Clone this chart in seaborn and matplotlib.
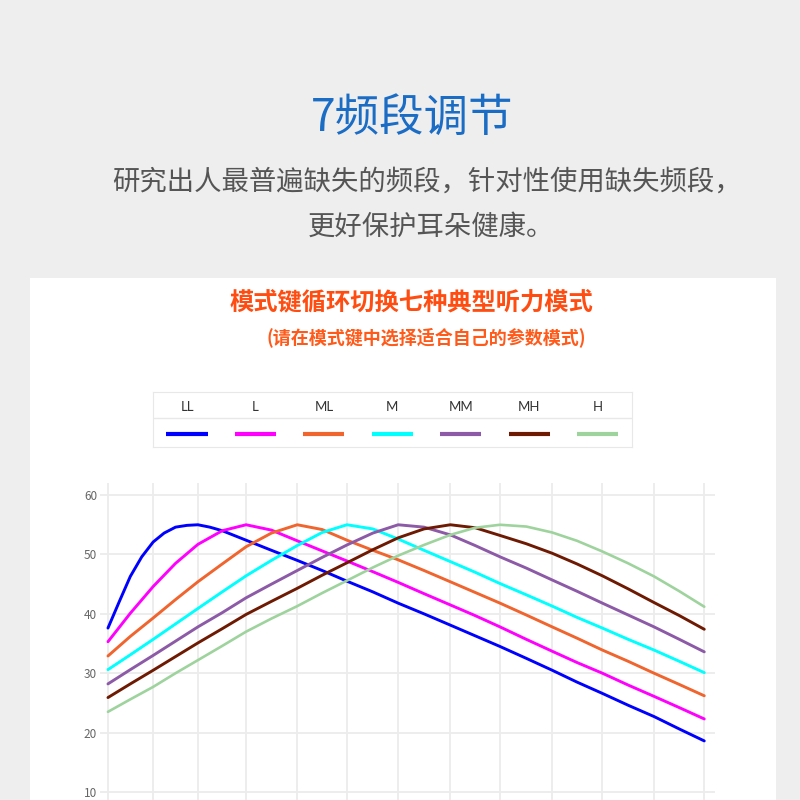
import pandas as pd
import matplotlib.pyplot as plt
import seaborn as sns
from matplotlib.patches import Rectangle

# grid columns as they sit on the picture (slightly tighter at the low end)
grid_cols = [0, 0.91, 1.81, 2.78, 3.81, 4.81, 5.84, 6.89, 7.89, 8.94, 9.95, 10.99, 12]

# levels read at every column and half column
band = [0, 0.45, 0.91, 1.36, 1.81, 2.30, 2.78, 3.29, 3.81, 4.31, 4.81, 5.33, 5.84,
        6.36, 6.89, 7.39, 7.89, 8.42, 8.94, 9.44, 9.95, 10.47, 10.99, 11.50, 12]
# LL rises steeply, so it was read more densely at the start
band_ll = [0, 0.23, 0.45, 0.68, 0.91, 1.13, 1.36, 1.59, 1.81, 2.05, 2.30, 2.78, 3.29,
           3.81, 4.31, 4.81, 5.33, 5.84, 6.36, 6.89, 7.39, 7.89, 8.42, 8.94, 9.44,
           9.95, 10.47, 10.99, 11.50, 12]

LL = [37.6, 42.1, 46.3, 49.6, 52.1, 53.6, 54.6, 54.9, 55.0, 54.6, 54.0, 52.4, 50.7,
      49.0, 47.3, 45.5, 43.7, 41.8, 40.0, 38.1, 36.3, 34.5, 32.5, 30.5, 28.5,
      26.6, 24.6, 22.7, 20.6, 18.6]
L = [35.3, 40.1, 44.6, 48.5, 51.7, 54.0, 55.0, 54.1, 52.3, 50.6, 48.9, 47.1, 45.3,
     43.4, 41.5, 39.7, 37.8, 35.7, 33.7, 31.8, 30.0, 28.0, 26.1, 24.2, 22.3]
ML = [32.9, 36.2, 39.3, 42.4, 45.4, 48.4, 51.3, 53.6, 55.0, 54.2, 52.4, 50.7, 49.1,
      47.3, 45.4, 43.6, 41.8, 39.8, 37.8, 35.9, 33.9, 32.0, 30.0, 28.1, 26.2]
M = [30.6, 33.1, 35.7, 38.3, 40.9, 43.7, 46.4, 49.0, 51.5, 53.7, 55.0, 54.3, 52.6,
     50.7, 48.8, 47.0, 45.1, 43.2, 41.3, 39.4, 37.6, 35.7, 33.9, 32.0, 30.1]
MM = [28.2, 30.6, 33.0, 35.4, 37.8, 40.2, 42.7, 45.0, 47.3, 49.5, 51.6, 53.6, 55.0,
      54.6, 53.3, 51.5, 49.6, 47.7, 45.7, 43.8, 41.8, 39.8, 37.8, 35.7, 33.6]
MH = [25.9, 28.2, 30.5, 32.8, 35.1, 37.5, 39.9, 42.1, 44.3, 46.5, 48.6, 50.8, 52.8,
      54.3, 55.0, 54.5, 53.2, 51.8, 50.2, 48.4, 46.4, 44.2, 41.9, 39.7, 37.4]
H = [23.5, 25.6, 27.7, 30.0, 32.2, 34.6, 37.0, 39.2, 41.3, 43.5, 45.6, 47.8, 49.8,
     51.6, 53.3, 54.5, 55.0, 54.7, 53.7, 52.3, 50.5, 48.5, 46.3, 43.8, 41.2]

modes = ["LL", "L", "ML", "M", "MM", "MH", "H"]
mode_colors = ["#0000ff", "#ff00ff", "#f0642e", "#00ffff", "#8c5aa6", "#6e1a02", "#9ed39d"]
y_ticks = [10, 20, 30, 40, 50, 60]

parts = [pd.DataFrame({"band": band_ll, "level": LL, "mode": "LL"})]
for name, vals in zip(modes[1:], [L, ML, M, MM, MH, H]):
    parts.append(pd.DataFrame({"band": band, "level": vals, "mode": name}))
df = pd.concat(parts, ignore_index=True)

sns.set_style("white")
plt.rcParams["font.family"] = ["Noto Sans CJK SC", "DejaVu Sans"]

fig = plt.figure(figsize=(8, 8), dpi=100, facecolor="#eeeeee")
fig.patches.append(Rectangle((0.0375, 0), 0.9325, 0.6525, transform=fig.transFigure,
                             facecolor="white", edgecolor="none", zorder=-1))

# headings
fig.text(0.515, 0.853, "7频段调节", ha="center", va="center", fontsize=32, color="#1a6cc4")
fig.text(0.534, 0.772, "研究出人最普遍缺失的频段，针对性使用缺失频段，",
         ha="center", va="center", fontsize=19.7, color="#555555")
fig.text(0.539, 0.716, "更好保护耳朵健康。", ha="center", va="center",
         fontsize=19.7, color="#555555")
fig.text(0.514, 0.6225, "模式键循环切换七种典型听力模式", ha="center", va="center",
         fontsize=17.5, fontweight="bold", color="#ff4d12")
fig.text(0.533, 0.579, "(请在模式键中选择适合自己的参数模式)", ha="center", va="center",
         fontsize=13, fontweight="bold", color="#ff5a1a")

# legend table
lax = fig.add_axes([0.191, 0.441, 0.599, 0.069])
lax.set_xlim(0, 7)
lax.set_ylim(0, 2)
for i, (m, c) in enumerate(zip(modes, mode_colors)):
    lax.text(i + 0.5, 1.45, m, ha="center", va="center", fontsize=9.5,
             color="#333333", family=["Lato", "DejaVu Sans"])
    lax.hlines(0.47, i + 0.2, i + 0.8, color=c, lw=3)
lax.axhline(1.05, color="#e8e8e8", lw=1)
lax.set_xticks([])
lax.set_yticks([])
for s in lax.spines.values():
    s.set_color("#e8e8e8")

# chart
ax = fig.add_axes([0.125, 0.0, 0.769, 0.396])
sns.lineplot(data=df, x="band", y="level", hue="mode", hue_order=modes,
             palette=dict(zip(modes, mode_colors)), linewidth=2.1,
             sort=False, legend=False, ax=ax)
ax.lines[-1].set_linewidth(1.9)
ax.set_xlim(-0.16, 12.22)
ax.set_ylim(8.65, 62)
ax.set_xticks(grid_cols)
ax.set_yticks(y_ticks)
ax.grid(True, color="#ececec", lw=1.3)
ax.tick_params(axis="x", labelbottom=False, length=0)
ax.tick_params(axis="y", length=0, labelsize=8.5, labelcolor="#666666", pad=2)
for t in ax.get_yticklabels():
    t.set_style("italic")
for s in ax.spines.values():
    s.set_visible(False)
ax.set_xlabel("")
ax.set_ylabel("")

fig.savefig("out.png", dpi=100, facecolor=fig.get_facecolor())
